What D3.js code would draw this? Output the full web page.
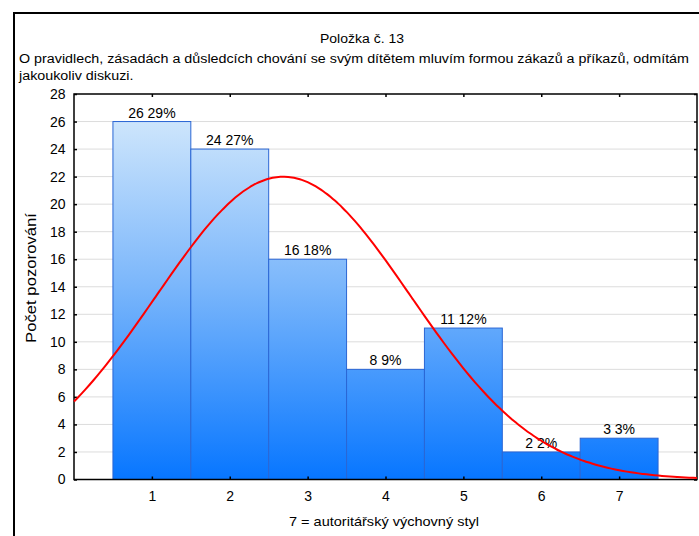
<!DOCTYPE html>
<html>
<head>
<meta charset="utf-8">
<script src="https://cdn.jsdelivr.net/npm/d3@7"></script>
<style>
  html, body { margin: 0; padding: 0; background: #fff; }
  svg { display: block; font-family: Arial, "Liberation Sans", sans-serif; }
</style>
</head>
<body>
<svg id="chart" width="699" height="536"></svg>
<script>
// Histogram: answers to item 13 (1–7 scale), counts with percentages
const categories = [1, 2, 3, 4, 5, 6, 7];
const counts = [26, 24, 16, 8, 11, 2, 3];
const percents = [29, 27, 18, 9, 12, 2, 3];
const yTicks = [0, 2, 4, 6, 8, 10, 12, 14, 16, 18, 20, 22, 24, 26, 28];

const title = "Položka č. 13";
const subtitle1 = "O pravidlech, zásadách a důsledcích chování se svým dítětem mluvím formou zákazů a příkazů, odmítám";
const subtitle2 = "jakoukoliv diskuzi.";
const xTitle = "7 = autoritářský výchovný styl";
const yTitle = "Počet pozorování";

const svg = d3.select("#chart");

// outer frame
svg.append("rect")
  .attr("x", 14).attr("y", 13)
  .attr("width", 720).attr("height", 560)
  .attr("fill", "none").attr("stroke", "#000").attr("stroke-width", 2);

const plot = { left: 74, right: 697, top: 94, bottom: 479.5 };

const x = d3.scaleLinear().domain([0, 8]).range([plot.left, plot.right]);
const y = d3.scaleLinear().domain([0, 28]).range([plot.bottom, plot.top]);

// bar gradient spans the whole plot height
const defs = svg.append("defs");
const grad = defs.append("linearGradient")
  .attr("id", "barFill")
  .attr("gradientUnits", "userSpaceOnUse")
  .attr("x1", 0).attr("x2", 0)
  .attr("y1", plot.top).attr("y2", plot.bottom);
grad.append("stop").attr("offset", "0%").attr("stop-color", "#dbedfc");
grad.append("stop").attr("offset", "50%").attr("stop-color", "#7ab6fb");
grad.append("stop").attr("offset", "100%").attr("stop-color", "#0776ff");

// horizontal gridlines
svg.append("g")
  .selectAll("line")
  .data(yTicks.filter(t => t > 0 && t < 28))
  .join("line")
  .attr("x1", plot.left).attr("x2", plot.right)
  .attr("y1", d => y(d)).attr("y2", d => y(d))
  .attr("stroke", "#dcdcdc").attr("stroke-width", 1);

// bars
svg.append("g")
  .selectAll("rect")
  .data(categories)
  .join("rect")
  .attr("x", (d) => x(d - 0.5))
  .attr("width", (d) => x(d + 0.5) - x(d - 0.5))
  .attr("y", (d, i) => y(counts[i]))
  .attr("height", (d, i) => y(0) - y(counts[i]))
  .attr("fill", "url(#barFill)")
  .attr("stroke", "#2a66d4")
  .attr("stroke-width", 1);

// bar labels: count and percentage
svg.append("g")
  .selectAll("text")
  .data(categories)
  .join("text")
  .attr("x", d => x(d))
  .attr("y", (d, i) => y(counts[i]) - 4)
  .attr("text-anchor", "middle")
  .attr("font-size", 14)
  .attr("fill", "#000")
  .text((d, i) => `${counts[i]} ${percents[i]}%`);

// fitted normal curve from the observed counts
const n = d3.sum(counts);
const mean = d3.sum(categories, (c, i) => c * counts[i]) / n;
const variance = d3.sum(categories, (c, i) => counts[i] * (c - mean) ** 2) / (n - 1);
const sd = Math.sqrt(variance);
const normal = v => n / (sd * Math.sqrt(2 * Math.PI)) * Math.exp(-0.5 * ((v - mean) / sd) ** 2);
const curvePts = d3.range(0, 8.0001, 0.05).map(v => [v, normal(v)]);

// axes box
const axisColor = "#000";
svg.append("rect")
  .attr("x", plot.left).attr("y", plot.top)
  .attr("width", plot.right - plot.left).attr("height", plot.bottom - plot.top)
  .attr("fill", "none").attr("stroke", axisColor).attr("stroke-width", 1.5);

const yAxis = d3.axisLeft(y).tickValues(yTicks).tickSize(-3).tickPadding(8);
const gy = svg.append("g").attr("transform", `translate(${plot.left},0)`).call(yAxis);
gy.select(".domain").remove();
gy.selectAll("text").attr("font-size", 14).attr("font-family", "Arial, 'Liberation Sans', sans-serif").attr("fill", "#000").attr("dx", "-0.5");
gy.selectAll("line").attr("stroke", axisColor).attr("stroke-width", 1.5);

const yAxisR = d3.axisRight(y).tickValues(yTicks).tickSize(-3).tickFormat("");
const gyr = svg.append("g").attr("transform", `translate(${plot.right},0)`).call(yAxisR);
gyr.select(".domain").remove();
gyr.selectAll("line").attr("stroke", axisColor).attr("stroke-width", 1.5);

const xAxis = d3.axisBottom(x).tickValues(categories).tickSize(-3).tickPadding(12);
const gx = svg.append("g").attr("transform", `translate(0,${plot.bottom})`).call(xAxis);
gx.select(".domain").remove();
gx.selectAll("text").attr("font-size", 14).attr("font-family", "Arial, 'Liberation Sans', sans-serif").attr("fill", "#000");
gx.selectAll("line").attr("stroke", axisColor).attr("stroke-width", 1.5);

const xAxisT = d3.axisTop(x).tickValues(categories).tickSize(-3).tickFormat("");
const gxt = svg.append("g").attr("transform", `translate(0,${plot.top})`).call(xAxisT);
gxt.select(".domain").remove();
gxt.selectAll("line").attr("stroke", axisColor).attr("stroke-width", 1.5);

// normal curve on top
svg.append("path")
  .datum(curvePts)
  .attr("d", d3.line().x(d => x(d[0])).y(d => y(d[1])).curve(d3.curveMonotoneX))
  .attr("fill", "none")
  .attr("stroke", "#ff0000")
  .attr("stroke-width", 2);

// titles
svg.append("text")
  .attr("x", 362).attr("y", 43)
  .attr("text-anchor", "middle")
  .attr("font-size", 12.5)
  .attr("textLength", 84).attr("lengthAdjust", "spacingAndGlyphs")
  .text(title);

const sub1 = svg.append("text")
  .attr("x", 19).attr("y", 63)
  .attr("font-size", 12.5)
  .text(subtitle1);
// stretch the long line to the frame width and keep the wrapped line at the same spacing
const stretch = 670 / sub1.node().getComputedTextLength();
sub1.attr("textLength", 670).attr("lengthAdjust", "spacingAndGlyphs");

const sub2 = svg.append("text")
  .attr("x", 19).attr("y", 80)
  .attr("font-size", 12.5)
  .text(subtitle2);
sub2.attr("textLength", sub2.node().getComputedTextLength() * stretch)
  .attr("lengthAdjust", "spacingAndGlyphs");

svg.append("text")
  .attr("x", 384).attr("y", 526)
  .attr("text-anchor", "middle")
  .attr("font-size", 13)
  .attr("textLength", 190).attr("lengthAdjust", "spacingAndGlyphs")
  .text(xTitle);

svg.append("text")
  .attr("transform", "translate(36,278) rotate(-90)")
  .attr("text-anchor", "middle")
  .attr("font-size", 14)
  .attr("textLength", 130).attr("lengthAdjust", "spacingAndGlyphs")
  .text(yTitle);
</script>
</body>
</html>
